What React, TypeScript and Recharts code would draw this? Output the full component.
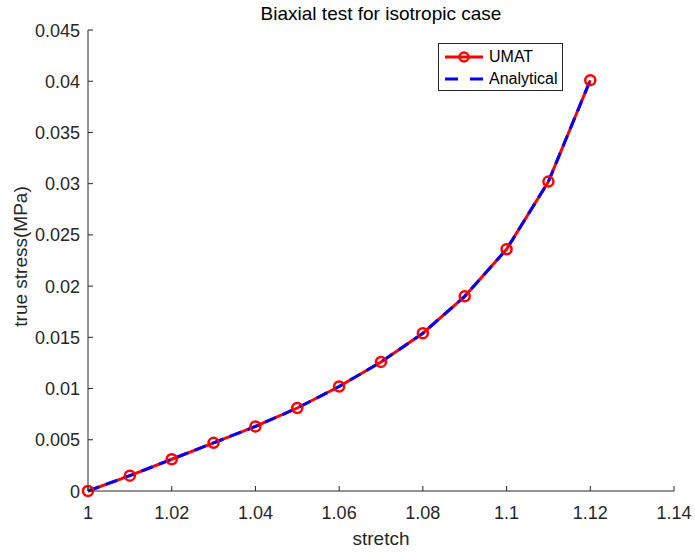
import React from 'react';
import { LineChart, Line, XAxis, YAxis, Legend } from 'recharts';

// stretch values (x) and true stress (MPa)
const stretch = [1, 1.01, 1.02, 1.03, 1.04, 1.05, 1.06, 1.07, 1.08, 1.09, 1.1, 1.11, 1.12];
const umat = [0, 0.0015, 0.0031, 0.0047, 0.0063, 0.0081, 0.0102, 0.0126, 0.0154, 0.019, 0.0236, 0.0302, 0.0401];
const analytical = [0, 0.0015, 0.0031, 0.0047, 0.0063, 0.0081, 0.0102, 0.0126, 0.0154, 0.019, 0.0236, 0.0302, 0.0401];

const xTicks = [1, 1.02, 1.04, 1.06, 1.08, 1.1, 1.12, 1.14];
const yTicks = [0, 0.005, 0.01, 0.015, 0.02, 0.025, 0.03, 0.035, 0.04, 0.045];

const data = stretch.map((s, i) => ({ stretch: s, umat: umat[i], analytical: analytical[i] }));

const FONT = '"Liberation Sans", Arial, Helvetica, sans-serif';
const INK = '#262626';
const TICK_LEN = 5;

const fmtX = (v: number) => String(Number(v.toFixed(2)));
const fmtY = (v: number) => String(Number(v.toFixed(3)));

// inward ticks, MATLAB style
const BottomTick = (props: any) => {
  const { x, y, payload } = props;
  return (
    <g>
      <line x1={x} x2={x} y1={y} y2={y - TICK_LEN} stroke={INK} />
      <text x={x} y={y + 28} textAnchor="middle" fill={INK} fontSize={18} fontFamily={FONT}>
        {fmtX(payload.value)}
      </text>
    </g>
  );
};

const LeftTick = (props: any) => {
  const { x, y, payload } = props;
  return (
    <g>
      <line x1={x} x2={x + TICK_LEN} y1={y} y2={y} stroke={INK} />
      <text x={x - 8} y={y + 6.5} textAnchor="end" fill={INK} fontSize={18} fontFamily={FONT}>
        {fmtY(payload.value)}
      </text>
    </g>
  );
};

const TopTick = (props: any) => {
  const { x, y } = props;
  return <line x1={x} x2={x} y1={y} y2={y + TICK_LEN} stroke={INK} />;
};

const RightTick = (props: any) => {
  const { x, y } = props;
  return <line x1={x} x2={x - TICK_LEN} y1={y} y2={y} stroke={INK} />;
};

const XLabel = (props: any) => {
  const { viewBox } = props;
  return (
    <text x={viewBox.x + viewBox.width / 2} y={viewBox.y + 54} textAnchor="middle" fill={INK} fontSize={19} fontFamily={FONT}>
      stretch
    </text>
  );
};

const YLabel = (props: any) => {
  const { viewBox } = props;
  const cx = viewBox.x + 27;
  const cy = viewBox.y + viewBox.height / 2 - 4;
  return (
    <text x={cx} y={cy} transform={`rotate(-90 ${cx} ${cy})`} textAnchor="middle" fill={INK} fontSize={19} fontFamily={FONT}>
      true stress(MPa)
    </text>
  );
};

const LegendBox = () => (
  <div
    style={{
      border: `1px solid ${INK}`,
      background: '#fff',
      width: 123,
      height: 46,
      boxSizing: 'content-box',
      fontFamily: FONT,
      fontSize: 16,
      color: '#000',
      padding: 0,
    }}
  >
    <div style={{ display: 'flex', alignItems: 'center', height: 22, marginTop: 2 }}>
      <svg width={50} height={22}>
        <line x1={6} x2={44} y1={11} y2={11} stroke="#ff0000" strokeWidth={3} />
        <circle cx={25} cy={11} r={4.5} fill="none" stroke="#ff0000" strokeWidth={2.5} />
      </svg>
      <span>UMAT</span>
    </div>
    <div style={{ display: 'flex', alignItems: 'center', height: 22 }}>
      <svg width={50} height={22}>
        <line x1={6} x2={44} y1={11} y2={11} stroke="#0000ff" strokeWidth={3} strokeDasharray="13 12" />
      </svg>
      <span>Analytical</span>
    </div>
  </div>
);

export default function App() {
  return (
    <div style={{ position: 'absolute', left: 0, top: 0, width: 695, height: 554, background: '#fff' }}>
      <div
        style={{
          position: 'absolute',
          left: 88,
          width: 586,
          top: 3,
          textAlign: 'center',
          fontFamily: FONT,
          fontSize: 19,
          color: '#000',
          lineHeight: '22px',
        }}
      >
        Biaxial test for isotropic case
      </div>
      <LineChart width={695} height={554} data={data} margin={{ top: 30, right: 21, left: 0, bottom: 0 }}>
        <XAxis
          dataKey="stretch"
          type="number"
          domain={[1, 1.14]}
          ticks={xTicks}
          height={63}
          tickSize={0}
          tickMargin={0}
          tick={<BottomTick />}
          axisLine={{ stroke: INK }}
          tickLine={false}
          label={<XLabel />}
        />
        <XAxis
          xAxisId="top"
          orientation="top"
          type="number"
          domain={[1, 1.14]}
          ticks={xTicks}
          allowDataOverflow
          height={0}
          tickSize={0}
          tickMargin={0}
          tick={<TopTick />}
          axisLine={{ stroke: INK }}
          tickLine={false}
        />
        <YAxis
          type="number"
          domain={[0, 0.045]}
          ticks={yTicks}
          width={88}
          tickSize={0}
          tickMargin={0}
          tick={<LeftTick />}
          axisLine={{ stroke: INK }}
          tickLine={false}
          label={<YLabel />}
        />
        <YAxis
          yAxisId="right"
          orientation="right"
          type="number"
          domain={[0, 0.045]}
          ticks={yTicks}
          allowDataOverflow
          width={0}
          tickSize={0}
          tickMargin={0}
          tick={<RightTick />}
          axisLine={{ stroke: INK }}
          tickLine={false}
        />
        <Legend
          layout="vertical"
          align="center"
          verticalAlign="middle"
          wrapperStyle={{ position: 'absolute', left: 438, top: 43, width: 125 }}
          content={<LegendBox />}
        />
        <Line
          type="linear"
          dataKey="umat"
          name="UMAT"
          stroke="#ff0000"
          strokeWidth={3}
          dot={{ r: 5, stroke: '#ff0000', strokeWidth: 2.5, fill: 'none' }}
          activeDot={false}
          isAnimationActive={false}
        />
        <Line
          type="linear"
          dataKey="analytical"
          name="Analytical"
          stroke="#0000ff"
          strokeWidth={3}
          strokeDasharray="12 7"
          dot={false}
          activeDot={false}
          isAnimationActive={false}
        />
      </LineChart>
    </div>
  );
}
